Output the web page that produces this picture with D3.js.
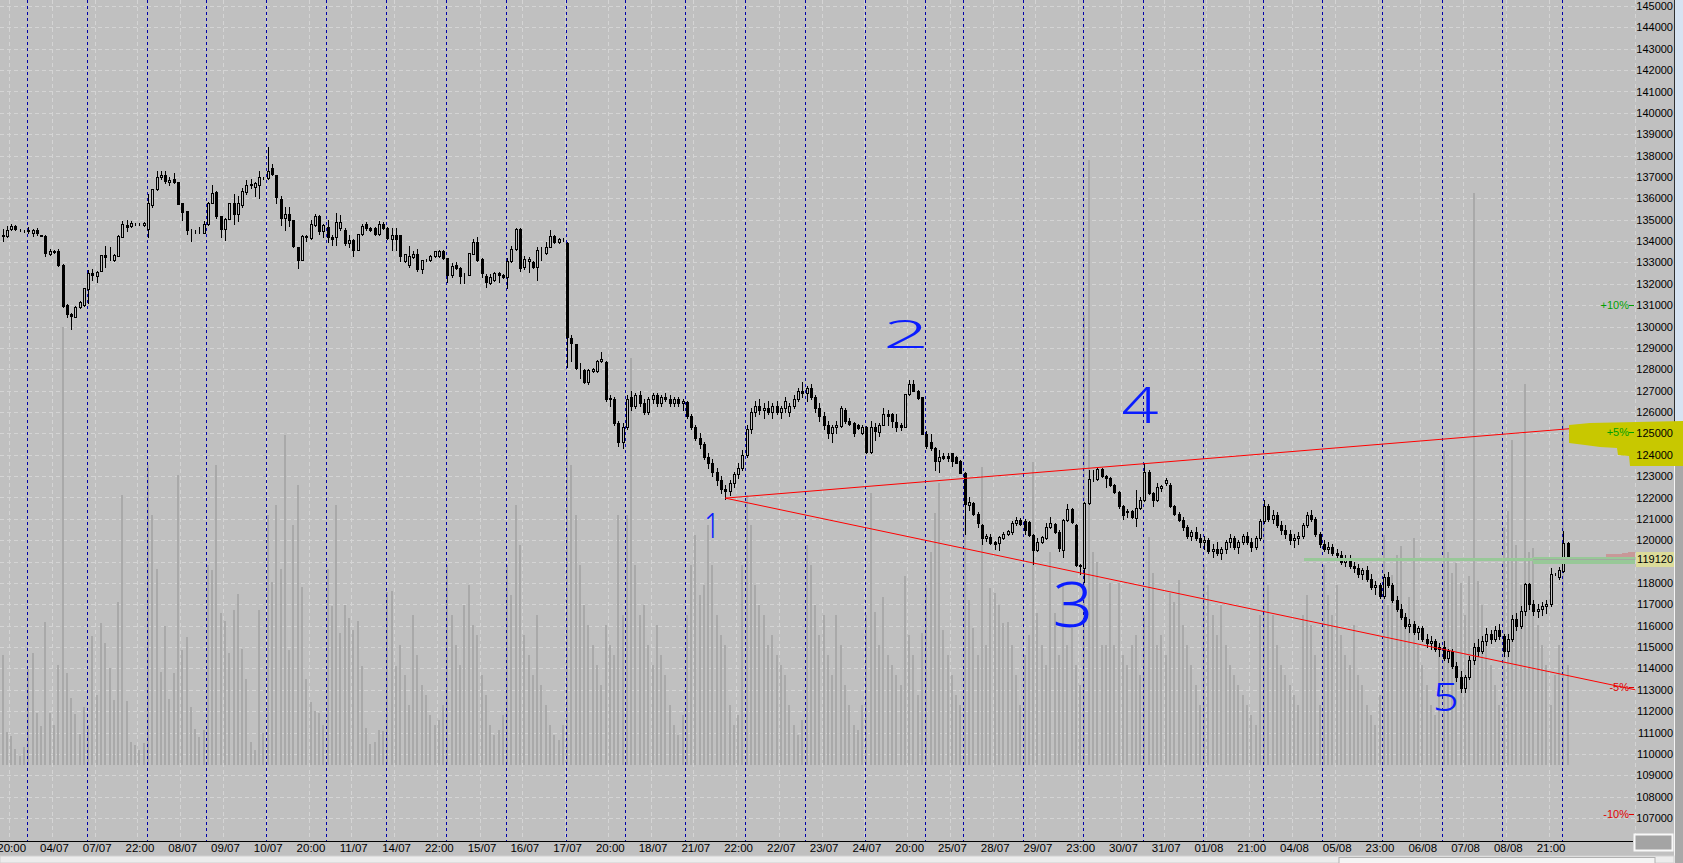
<!DOCTYPE html>
<html><head><meta charset="utf-8">
<script src="https://cdn.jsdelivr.net/npm/d3@7"></script>
<style>html,body{margin:0;padding:0;background:#c0c0c0;overflow:hidden}</style>
</head><body><svg id="c" width="1683" height="863"></svg>
<script>
// ---- DATA (prices in thousands of points) ----
const ohlc = [
[134.30,134.55,133.98,134.22],[134.22,134.70,134.18,134.52],[134.55,134.80,134.50,134.72],[134.72,134.76,134.50,134.56],[134.52,134.56,134.46,134.50],[134.48,134.52,134.44,134.47],
[134.47,134.68,134.36,134.50],[134.40,134.56,134.25,134.50],[134.52,134.60,134.30,134.36],[134.27,134.30,134.22,134.25],[134.25,134.27,133.30,133.42],[133.40,133.62,133.35,133.52],[133.53,133.58,133.45,133.50],[133.55,133.65,132.85,132.90],[132.90,132.92,130.90,130.95],[131.00,131.05,130.45,130.60],[130.60,130.65,129.90,130.50],[130.45,130.95,130.45,130.90],[130.90,131.20,130.85,131.15],[131.00,131.80,130.95,131.78],
[131.75,132.65,131.10,132.50],[132.50,132.70,132.20,132.40],[132.35,132.60,132.10,132.55],[132.60,133.35,132.60,133.35],[133.35,133.75,132.80,133.25],[133.20,133.70,133.10,133.20],[133.10,133.40,133.05,133.35],[133.30,134.30,133.30,134.25],[134.20,134.95,134.20,134.80],[134.75,135.00,134.45,134.65],[134.70,134.95,134.65,134.85],[134.80,134.85,134.75,134.80],[134.80,134.86,134.74,134.80],[134.75,134.88,134.72,134.85],
[134.55,136.20,134.20,135.80],[135.70,136.45,135.60,136.45],[136.45,137.30,136.40,137.00],[137.00,137.30,136.90,137.10],[137.10,137.30,136.70,136.80],[136.75,137.00,136.60,136.85],[136.90,137.20,136.70,136.75],[136.75,136.75,135.75,135.75],[135.80,135.80,135.00,135.35],[135.40,135.40,134.35,134.50],[134.50,134.55,134.00,134.50],[134.45,134.50,134.40,134.45],[134.45,134.65,134.40,134.45],[134.40,134.95,134.40,134.80],
[134.80,135.85,134.75,135.80],[135.80,136.60,135.80,136.25],[136.30,136.35,135.10,135.15],[135.15,135.15,134.20,134.55],[134.55,135.10,134.05,135.05],[135.05,135.80,135.05,135.80],[135.80,136.20,134.80,135.25],[135.25,136.10,134.95,135.80],[135.70,136.50,135.60,136.35],[136.30,136.85,136.20,136.60],[136.60,136.90,136.50,136.65],[136.55,136.75,136.10,136.70],[136.60,137.30,136.00,137.00],[136.95,137.00,136.90,136.95],
[136.95,138.40,136.90,137.30],[137.40,137.60,137.10,137.15],[137.10,137.10,135.80,136.05],[135.95,136.10,134.75,135.10],[135.10,135.60,134.50,135.25],[135.25,135.60,134.70,135.00],[135.00,135.00,133.70,133.75],[133.70,133.70,132.75,133.10],[133.10,134.30,133.10,134.25],[134.25,134.30,134.00,134.20],[134.15,135.00,134.10,134.80],[134.75,135.25,134.70,135.15],[135.15,135.20,134.35,134.45],[134.45,134.80,134.20,134.75],
[134.65,135.00,133.95,134.20],[134.20,134.30,133.80,134.10],[134.20,135.30,133.80,134.90],[134.60,135.20,134.50,134.90],[134.50,134.60,133.80,133.90],[133.90,134.30,133.70,134.05],[134.05,134.10,133.30,133.60],[133.60,134.35,133.60,134.35],[134.35,134.80,134.30,134.70],[134.80,134.90,134.50,134.60],[134.60,134.65,134.45,134.50],[134.60,134.65,134.30,134.35],[134.35,134.95,134.30,134.80],[134.80,134.90,134.55,134.60],
[134.60,134.65,134.10,134.15],[134.10,134.60,133.60,134.30],[134.30,134.60,133.60,134.10],[134.30,134.30,133.05,133.30],[133.05,133.40,133.00,133.40],[132.90,133.75,132.80,133.30],[133.25,133.55,133.20,133.40],[133.40,133.65,132.60,132.70],[132.70,133.10,132.50,133.10],[133.10,133.15,133.05,133.10],[133.10,133.35,133.05,133.30],[133.30,133.55,133.25,133.55],[133.30,133.60,133.25,133.55],[133.55,133.60,133.15,133.20],
[133.20,133.20,132.10,132.40],[132.40,132.95,132.30,132.85],[132.90,133.00,132.70,132.75],[132.75,132.80,132.05,132.35],[132.40,132.50,132.05,132.40],[132.40,133.45,132.40,133.45],[133.40,134.10,133.40,133.95],[133.95,134.20,133.05,133.10],[133.15,133.20,132.30,132.50],[132.35,132.45,131.85,132.10],[132.05,132.45,132.00,132.30],[132.20,132.55,132.15,132.50],[132.50,132.55,132.10,132.40],[132.40,132.45,132.25,132.30],
[132.30,133.20,131.80,133.05],[133.05,133.75,133.00,133.65],[133.65,134.60,133.60,134.55],[134.55,134.60,132.60,132.75],[132.80,133.30,132.70,133.15],[133.05,133.25,132.55,133.15],[133.00,133.05,132.75,132.80],[132.80,133.70,132.20,133.60],[133.60,133.70,133.10,133.60],[133.45,133.95,133.40,133.70],[133.70,134.50,133.70,134.25],[134.25,134.30,133.90,133.95],[133.95,134.15,133.90,134.10],[134.05,134.15,134.00,134.05],
[133.90,133.95,128.10,129.50],[129.45,129.60,128.40,129.25],[129.20,129.20,128.00,128.05],[127.95,128.30,127.60,127.95],[127.95,128.00,127.35,127.40],[127.40,128.00,127.30,127.95],[127.90,128.05,127.85,128.00],[127.90,128.45,127.85,128.40],[128.40,128.80,128.35,128.50],[128.35,128.40,126.50,126.60],[126.60,126.80,126.30,126.65],[126.60,126.70,125.40,125.50],[125.50,125.60,124.40,124.60],[124.60,125.50,124.30,125.30],
[125.30,126.80,125.20,126.60],[126.70,127.00,126.10,126.30],[126.30,126.90,126.20,126.80],[126.80,127.00,126.30,126.40],[126.40,126.60,125.90,126.00],[126.00,126.70,125.90,126.60],[126.60,126.90,126.40,126.80],[126.80,126.90,126.30,126.40],[126.40,126.80,126.30,126.70],[126.70,126.90,126.50,126.60],[126.60,126.80,126.30,126.40],[126.40,126.70,126.30,126.60],[126.60,126.70,126.30,126.40],[126.40,126.60,126.10,126.50],
[126.45,126.50,125.70,125.80],[125.80,125.90,125.20,125.30],[125.30,125.40,124.70,124.80],[124.80,125.00,124.30,124.50],[124.50,124.60,123.80,123.90],[123.90,124.10,123.40,123.60],[123.60,123.80,123.00,123.20],[123.20,123.40,122.60,122.80],[122.80,123.00,122.20,122.40],[122.40,122.60,121.95,122.30],[122.30,122.80,122.10,122.70],[122.70,123.20,122.50,123.10],[123.10,123.60,122.90,123.40],[123.40,124.20,123.30,124.00],
[124.00,125.40,123.90,125.20],[125.20,126.20,125.00,126.00],[126.00,126.50,125.80,126.30],[126.30,126.60,125.90,126.10],[126.10,126.40,125.70,126.20],[126.20,126.50,125.90,126.00],[126.00,126.40,125.70,126.30],[126.30,126.50,125.90,126.00],[126.00,126.30,125.70,126.20],[126.20,126.70,126.00,126.50],[126.00,126.40,125.80,126.30],[126.30,126.80,126.20,126.60],[126.60,127.10,126.50,127.00],[127.00,127.40,126.70,126.90],
[126.90,127.20,126.50,127.10],[127.10,127.30,126.60,126.70],[126.70,126.80,126.00,126.20],[126.20,126.40,125.60,125.80],[125.80,126.00,125.20,125.40],[125.40,125.60,124.80,125.00],[125.00,125.40,124.60,125.30],[125.30,125.60,125.00,125.40],
[125.36,126.30,125.30,126.20],[126.10,126.20,125.50,125.60],[125.60,125.70,125.40,125.45],[125.50,125.55,124.90,125.00],[125.40,125.45,125.20,125.25],[125.00,125.40,124.95,125.30],
[125.30,125.35,124.10,124.15],[124.15,125.60,124.10,125.30],[125.30,125.50,124.70,125.10],[125.05,125.50,124.90,125.40],[125.40,126.20,125.40,125.90],[125.90,126.10,125.40,125.80],[125.90,125.95,125.30,125.60],[125.55,125.90,125.10,125.30],[125.40,125.50,125.15,125.30],[125.30,126.85,125.30,126.85],[126.85,127.50,126.80,127.30],[127.30,127.50,127.00,127.00],[127.00,127.05,126.60,126.65],[126.70,126.70,124.95,124.95],
[124.95,125.10,124.30,124.40],[124.60,124.95,124.20,124.30],[124.30,124.35,123.30,123.70],[123.70,124.20,123.20,123.90],[123.95,124.10,123.80,123.85],[123.95,124.10,123.70,123.85],[124.10,124.10,123.45,123.70],[123.90,123.95,123.60,123.60],[123.70,123.75,123.15,123.15],
[123.15,123.20,120.30,121.70],[121.65,122.00,121.40,121.80],[121.75,121.80,121.20,121.25],[121.25,121.30,120.60,120.80],[120.70,120.75,119.80,120.10],[120.10,120.30,119.95,120.20],[120.15,120.30,119.80,119.85],[119.90,119.95,119.60,119.80],[119.85,120.20,119.55,120.15],[120.10,120.40,120.05,120.30],[120.30,120.50,120.25,120.45],[120.40,120.90,120.30,120.80],[120.80,121.10,120.70,120.95],[120.95,121.05,120.70,120.75],
[120.90,121.00,120.30,120.50],[120.85,120.90,120.20,120.25],[120.25,120.30,118.90,119.55],[119.55,120.10,119.50,119.90],[119.90,120.20,119.85,120.15],[120.10,120.80,120.05,120.60],[120.60,121.10,120.55,120.80],[120.75,120.80,120.35,120.40],[120.40,120.50,119.50,119.65],[119.55,121.00,119.20,120.95],[120.95,121.70,120.90,121.45],[121.45,121.50,120.80,120.85],[120.70,120.75,118.80,118.85],[118.85,118.90,118.40,118.80],
[118.70,121.80,118.05,121.75],[121.75,123.30,121.70,122.85],[122.85,123.30,122.75,122.85],[122.85,123.40,122.80,123.35],[123.35,123.40,122.95,123.00],[123.00,123.05,122.50,122.90],[122.90,122.95,122.55,122.60],[122.60,122.65,122.20,122.25],[122.25,122.30,121.50,121.60],[121.60,121.65,121.00,121.20],[121.30,121.45,121.10,121.35],[121.35,121.40,121.05,121.10],[121.05,122.35,120.65,121.50],[121.50,122.00,121.45,121.90],
[121.90,123.60,121.85,123.20],[123.20,123.30,122.15,122.20],[122.20,122.25,121.60,121.90],[121.90,122.70,121.85,122.50],[122.45,122.60,122.30,122.55],[122.70,122.90,122.60,122.80],[122.60,122.70,121.55,121.60],[121.60,121.65,121.20,121.25],[121.25,121.30,120.90,120.95],
[120.95,121.10,120.50,120.60],[120.60,120.70,120.10,120.20],[120.20,120.50,120.00,120.40],[120.40,120.60,120.00,120.10],[120.10,120.30,119.70,119.90],
[119.90,120.20,119.60,120.00],[120.00,120.10,119.40,119.50],[119.50,119.80,119.20,119.60],[119.60,119.90,119.30,119.40],[119.40,119.70,119.10,119.60],[119.60,120.00,119.40,119.90],[119.90,120.30,119.70,120.10],[120.10,120.20,119.60,119.70],[119.70,120.00,119.40,119.90],[119.90,120.30,119.80,120.20],[120.20,120.40,119.80,119.90],[119.90,120.10,119.50,119.70],[119.70,120.20,119.60,120.10],[120.10,121.00,120.00,120.90],
[120.90,121.90,120.80,121.60],[121.60,121.70,120.90,121.00],[121.00,121.40,120.80,121.20],[121.20,121.30,120.60,120.70],[120.70,120.90,120.30,120.50],[120.50,120.70,120.10,120.30],[120.30,120.50,119.80,120.00],[120.00,120.30,119.70,120.10],[120.10,120.40,119.80,120.20],[120.20,120.80,120.10,120.70],[120.70,121.30,120.60,121.20],[121.20,121.40,120.90,121.00],[121.00,121.10,120.20,120.30],[120.30,120.40,119.70,119.80],
[119.80,120.00,119.50,119.60],[119.60,119.90,119.40,119.70],[119.70,119.80,119.30,119.40],[119.40,119.60,119.10,119.30],[119.30,119.50,118.90,119.00],[119.00,119.30,118.80,119.10],[119.10,119.30,118.70,118.80],[118.80,119.00,118.50,118.70],[118.70,118.90,118.30,118.40],[118.40,118.70,118.20,118.60],[118.60,118.80,118.10,118.20],[118.20,118.40,117.70,117.80],[117.80,118.10,117.50,117.90],[117.90,118.00,117.30,117.40],
[117.40,118.40,117.30,118.30],[118.30,118.50,117.80,117.90],[117.90,118.00,117.10,117.20],[117.20,117.40,116.70,116.80],[116.80,117.00,116.30,116.40],[116.40,116.60,115.90,116.00],[116.00,116.30,115.70,116.10],[116.10,116.20,115.60,115.70],[115.70,116.00,115.40,115.90],[115.90,116.00,115.30,115.40],[115.40,115.60,115.00,115.20],[115.20,115.50,114.90,115.30],[115.30,115.40,114.80,114.90],[114.90,115.20,114.60,115.00],
[115.00,115.30,114.40,114.50],[114.50,114.90,114.30,114.80],[114.80,114.90,114.00,114.10],[114.10,114.30,113.40,113.60],[113.60,113.90,112.90,113.10],[113.10,113.70,112.90,113.60],[113.60,114.60,113.50,114.40],[114.40,115.20,114.20,115.00],[115.00,115.40,114.60,114.80],[114.80,115.50,114.70,115.30],[115.30,115.90,115.10,115.60],[115.60,115.80,115.20,115.40],[115.40,116.00,115.30,115.80],[115.80,116.10,115.40,115.50],
[115.50,115.60,114.60,114.80],[114.80,115.60,114.60,115.40],[115.40,116.50,115.30,116.30],[116.30,116.60,115.80,116.00],[116.00,116.90,115.90,116.70],[116.70,118.00,116.50,117.95],[117.95,118.00,116.80,117.00],[117.00,117.20,116.50,116.70],[116.70,117.00,116.40,116.80],[116.80,117.10,116.50,116.90],[116.90,117.20,116.60,117.00],[117.00,118.68,116.90,118.42],[118.42,118.46,118.38,118.42],[118.26,118.75,118.20,118.60],
[118.57,120.43,118.50,119.85],[119.85,119.90,119.10,119.12]
];
const volume = [
110,33,29,16,9,18,
96,112,52,39,143,52,40,100,438,92,67,51,31,58,
40,129,70,142,122,97,65,163,270,64,23,20,15,22,
300,250,196,93,139,66,92,290,115,128,58,36,28,35,
200,195,300,152,144,112,155,171,116,86,23,15,155,32,
250,183,260,196,330,115,240,280,178,86,63,54,52,40,
196,159,260,132,160,147,135,144,99,37,21,23,35,34,
173,174,99,120,90,60,150,110,80,70,50,40,45,60,
200,150,120,100,160,180,140,130,90,70,40,30,35,50,
200,170,260,220,130,110,90,150,80,60,40,30,25,40,
350,300,250,200,160,140,120,100,80,140,120,110,250,150,
250,407,200,150,160,120,100,140,110,90,60,40,30,50,
150,200,230,170,180,240,200,150,130,120,60,40,50,200,
270,240,180,160,150,120,130,110,100,90,60,40,30,45,
220,200,160,130,150,110,90,150,120,80,60,40,35,60,
150,272,153,120,168,110,100,90,80,189,130,110,70,132,
180,213,252,282,135,110,90,70,60,
250,165,137,110,298,120,177,172,160,142,143,120,90,60,
110,130,303,152,120,100,213,152,110,182,120,137,100,80,
450,605,213,203,120,120,182,120,182,110,100,120,130,90,
150,228,192,120,130,110,172,163,185,140,120,100,80,60,
200,180,150,130,160,120,100,90,80,70,60,50,40,150,
250,180,150,120,100,90,80,70,60,150,170,140,110,60,
200,170,150,180,130,110,100,140,90,80,60,50,40,70,
230,160,190,210,219,150,168,227,120,100,80,60,50,120,
314,213,192,202,182,150,189,572,184,160,130,100,80,60,
238,254,325,220,180,381,213,217,140,120,100,60,90,120,
348,100
];
const dayStarts = [6,20,34,48,62,76,90,104,118,132,146,160,174,188,202,216,225,239,253,267,281,295,309,323,337,351,365];
const xLabels = ["20:00","04/07","07/07","22:00","08/07","09/07","10/07","20:00","11/07","14/07","22:00","15/07","16/07","17/07","20:00","18/07","21/07","22:00","22/07","23/07","24/07","20:00","25/07","28/07","29/07","23:00","30/07","31/07","01/08","21:00","04/08","05/08","23:00","06/08","07/08","08/08","21:00"];
const xLabelIdx = xLabels.map((_, k) => 2 + 10 * k);
const priceTicks = d3.range(107, 146);
const pctLabels = ["+10%", "+5%", "-5%", "-10%"];
const pctValues = [130.9, 124.95, 113.05, 107.1];
const pctColors = ["#00a000", "#00a000", "#e00000", "#e00000"];
const trendApex = [169, 121.97];
const trendEndIdx = 381.8;
const trendEndValues = [125.47, 113.0];
const lastPrice = 119.12;
const noteText = ["1", "2", "3", "4", "5"];
const noteIdx = [165.9, 211.3, 250.3, 266.0, 337.5];
const noteVal = [120.7, 129.65, 117.0, 126.35, 112.65];

// ---- DRAW ----
const W = 1683, H = 863, plotR = 1635, axisY = 841;
const x = d3.scaleLinear().domain([0, 366]).range([2.64, 2.64 + 366 * 4.276]);
const y = d3.scaleLinear().domain([107, 145]).range([818, 6]);
const yv = d3.scaleLinear().domain([0, 620]).range([765, 145]);
const svg = d3.select("#c");
svg.append("rect").attr("width", W).attr("height", H).attr("fill", "#c0c0c0");

// grid
const grid = svg.append("g").attr("stroke", "#d4d4d4").attr("stroke-dasharray", "4,3").attr("shape-rendering", "crispEdges");
grid.selectAll("line.h").data(priceTicks).join("line").attr("class", "h")
  .attr("x1", 0).attr("x2", plotR).attr("y1", d => Math.round(y(d)) + 0.5).attr("y2", d => Math.round(y(d)) + 0.5);
grid.selectAll("line.v").data(xLabelIdx).join("line").attr("class", "v")
  .attr("x1", d => Math.round(x(d) - 2) + 0.5).attr("x2", d => Math.round(x(d) - 2) + 0.5).attr("y1", 0).attr("y2", axisY);
grid.append("line").attr("x1", plotR + 0.5).attr("x2", plotR + 0.5).attr("y1", 0).attr("y2", axisY);

// volume
svg.append("g").attr("fill", "#a9a9a9").attr("shape-rendering", "crispEdges")
  .selectAll("rect").data(volume).join("rect")
  .attr("x", (d, i) => Math.round(x(i)) - 1).attr("width", 2)
  .attr("y", d => Math.round(yv(d))).attr("height", d => 765 - Math.round(yv(d)));

// day separators
svg.append("g").attr("stroke", "#0000a8").attr("stroke-dasharray", "3,3").attr("shape-rendering", "crispEdges")
  .selectAll("line").data(dayStarts).join("line")
  .attr("x1", d => Math.round(x(d) - 1.5) + 0.5).attr("x2", d => Math.round(x(d) - 1.5) + 0.5)
  .attr("y1", 0).attr("y2", axisY);

// candles
const cg = svg.append("g").attr("shape-rendering", "crispEdges");
const c = cg.selectAll("g").data(ohlc).join("g");
c.append("line").attr("stroke", "#000")
  .attr("x1", (d, i) => Math.round(x(i)) + 0.5).attr("x2", (d, i) => Math.round(x(i)) + 0.5)
  .attr("y1", d => Math.round(y(d[1]))).attr("y2", d => Math.round(y(d[2])) + 1);
c.append("rect").attr("stroke", "#000")
  .attr("fill", d => d[3] < d[0] ? "#000" : "#c0c0c0")
  .attr("x", (d, i) => Math.round(x(i)) - 0.5).attr("width", 2)
  .attr("y", d => Math.round(y(Math.max(d[0], d[3]))) + 0.5)
  .attr("height", d => Math.max(0, Math.round(y(Math.min(d[0], d[3]))) - Math.round(y(Math.max(d[0], d[3])))));

// trend lines
const tl = svg.append("g").attr("stroke", "#ff0000").attr("stroke-width", 1);
trendEndValues.forEach(v => {
  tl.append("line").attr("x1", x(trendApex[0])).attr("y1", y(trendApex[1])).attr("x2", x(trendEndIdx)).attr("y2", y(v));
});

// last-price line & book blocks
const lpY = Math.round(y(lastPrice));
svg.append("rect").attr("x", 1304).attr("y", lpY - 1).attr("width", plotR - 1304).attr("height", 3).attr("fill", "#98c898");
svg.append("rect").attr("x", 1533).attr("y", lpY - 2).attr("width", plotR - 1533).attr("height", 7).attr("fill", "#98c898");
svg.append("line").attr("x1", 1533).attr("x2", plotR).attr("y1", lpY + 0.5).attr("y2", lpY + 0.5).attr("stroke", "#a0a8a0");
svg.append("path").attr("fill", "#c89898")
  .attr("d", `M1606,${lpY - 2}V${lpY - 5}H1622V${lpY - 6}H1628V${lpY - 7}H${plotR}V${lpY - 2}Z`);

// right strip
svg.append("rect").attr("x", 1675).attr("y", 0).attr("width", 8).attr("height", 447).attr("fill", "#d6e3f2");
svg.append("rect").attr("x", 1675).attr("y", 447).attr("width", 8).attr("height", 416).attr("fill", "#a8a8a8");
svg.append("line").attr("x1", 1674.5).attr("x2", 1674.5).attr("y1", 0).attr("y2", 447).attr("stroke", "#303030");
svg.append("line").attr("x1", 1674.5).attr("x2", 1674.5).attr("y1", 447).attr("y2", 863).attr("stroke", "#f4f4f4");

// yellow highlight
svg.append("path").attr("fill", "#c8c800")
  .attr("d", "M1569,425L1590,423L1683,421L1683,466L1630,466L1629,456L1618,455L1617,448L1600,447L1585,445L1569,443Z");

// percentage labels
const pl = svg.append("g").attr("font-family", "Liberation Sans, Arial, sans-serif").attr("font-size", 11);
pctLabels.forEach((t, k) => {
  pl.append("text").attr("x", 1629).attr("y", y(pctValues[k]) + 2).attr("text-anchor", "end").attr("fill", pctColors[k]).text(t);
  pl.append("line").attr("x1", 1629).attr("x2", 1634).attr("y1", Math.round(y(pctValues[k])) - 1.5).attr("y2", Math.round(y(pctValues[k])) - 1.5).attr("stroke", pctColors[k]);
});

// y axis (right)
const yAxis = d3.axisLeft(y).tickValues(priceTicks).tickSize(0).tickPadding(0).tickFormat(d => d3.format("d")(d * 1000));
const ya = svg.append("g").attr("transform", "translate(1673,0)").call(yAxis);
ya.select(".domain").remove();
ya.selectAll("text").attr("font-family", "Liberation Sans, Arial, sans-serif").attr("font-size", 11).attr("fill", "#000");

// last price label box (covers the nearby tick label)
svg.append("rect").attr("x", 1636).attr("y", lpY - 7).attr("width", 38).attr("height", 15).attr("fill", "#dcdc9a");
svg.append("text").attr("x", 1673).attr("y", lpY + 4).attr("text-anchor", "end")
  .attr("font-family", "Liberation Sans, Arial, sans-serif").attr("font-size", 11).text(d3.format("d")(lastPrice * 1000));

// x axis
const xAxis = d3.axisBottom(x).tickValues(xLabelIdx).tickSize(0).tickPadding(3).tickFormat((d, k) => xLabels[k]);
const xa = svg.append("g").attr("transform", `translate(0,${axisY})`).call(xAxis);
xa.select(".domain").remove();
xa.selectAll("text").attr("font-family", "Liberation Sans, Arial, sans-serif").attr("font-size", 11.5).attr("fill", "#000");
svg.append("line").attr("x1", 0).attr("x2", 1633).attr("y1", axisY + 0.5).attr("y2", axisY + 0.5).attr("stroke", "#000");

// bottom scrollbar & button
svg.append("rect").attr("x", 0).attr("y", 856).attr("width", 1674).attr("height", 7).attr("fill", "#ececec").attr("stroke", "#d0d0d0");
svg.append("rect").attr("x", 1339).attr("y", 857.5).attr("width", 316).attr("height", 6).attr("fill", "#f4f4f4").attr("stroke", "#b0b0b0");
svg.append("rect").attr("x", 1634.5).attr("y", 834.5).attr("width", 38).attr("height", 16).attr("fill", "#a4a4a4").attr("stroke", "#f8f8f8").attr("stroke-width", 2);

// handwritten wave labels
const ng = svg.append("g").attr("fill", "#0a1cff").attr("font-family", "Noto Sans, DejaVu Sans, sans-serif")
  .attr("font-weight", 300).attr("text-anchor", "middle");
const noteSize = [34, 40, 62, 50, 38];
const noteScale = [[0.8, 1.0], [2.0, 0.95], [1.15, 1.0], [1.3, 1.0], [1.2, 1.0]];
noteText.forEach((t, k) => {
  ng.append("text").attr("font-size", noteSize[k])
    .attr("transform", `translate(${x(noteIdx[k])},${y(noteVal[k])}) scale(${noteScale[k][0]},${noteScale[k][1]})`)
    .attr("dy", "0.36em").text(t);
});
</script></body></html>
